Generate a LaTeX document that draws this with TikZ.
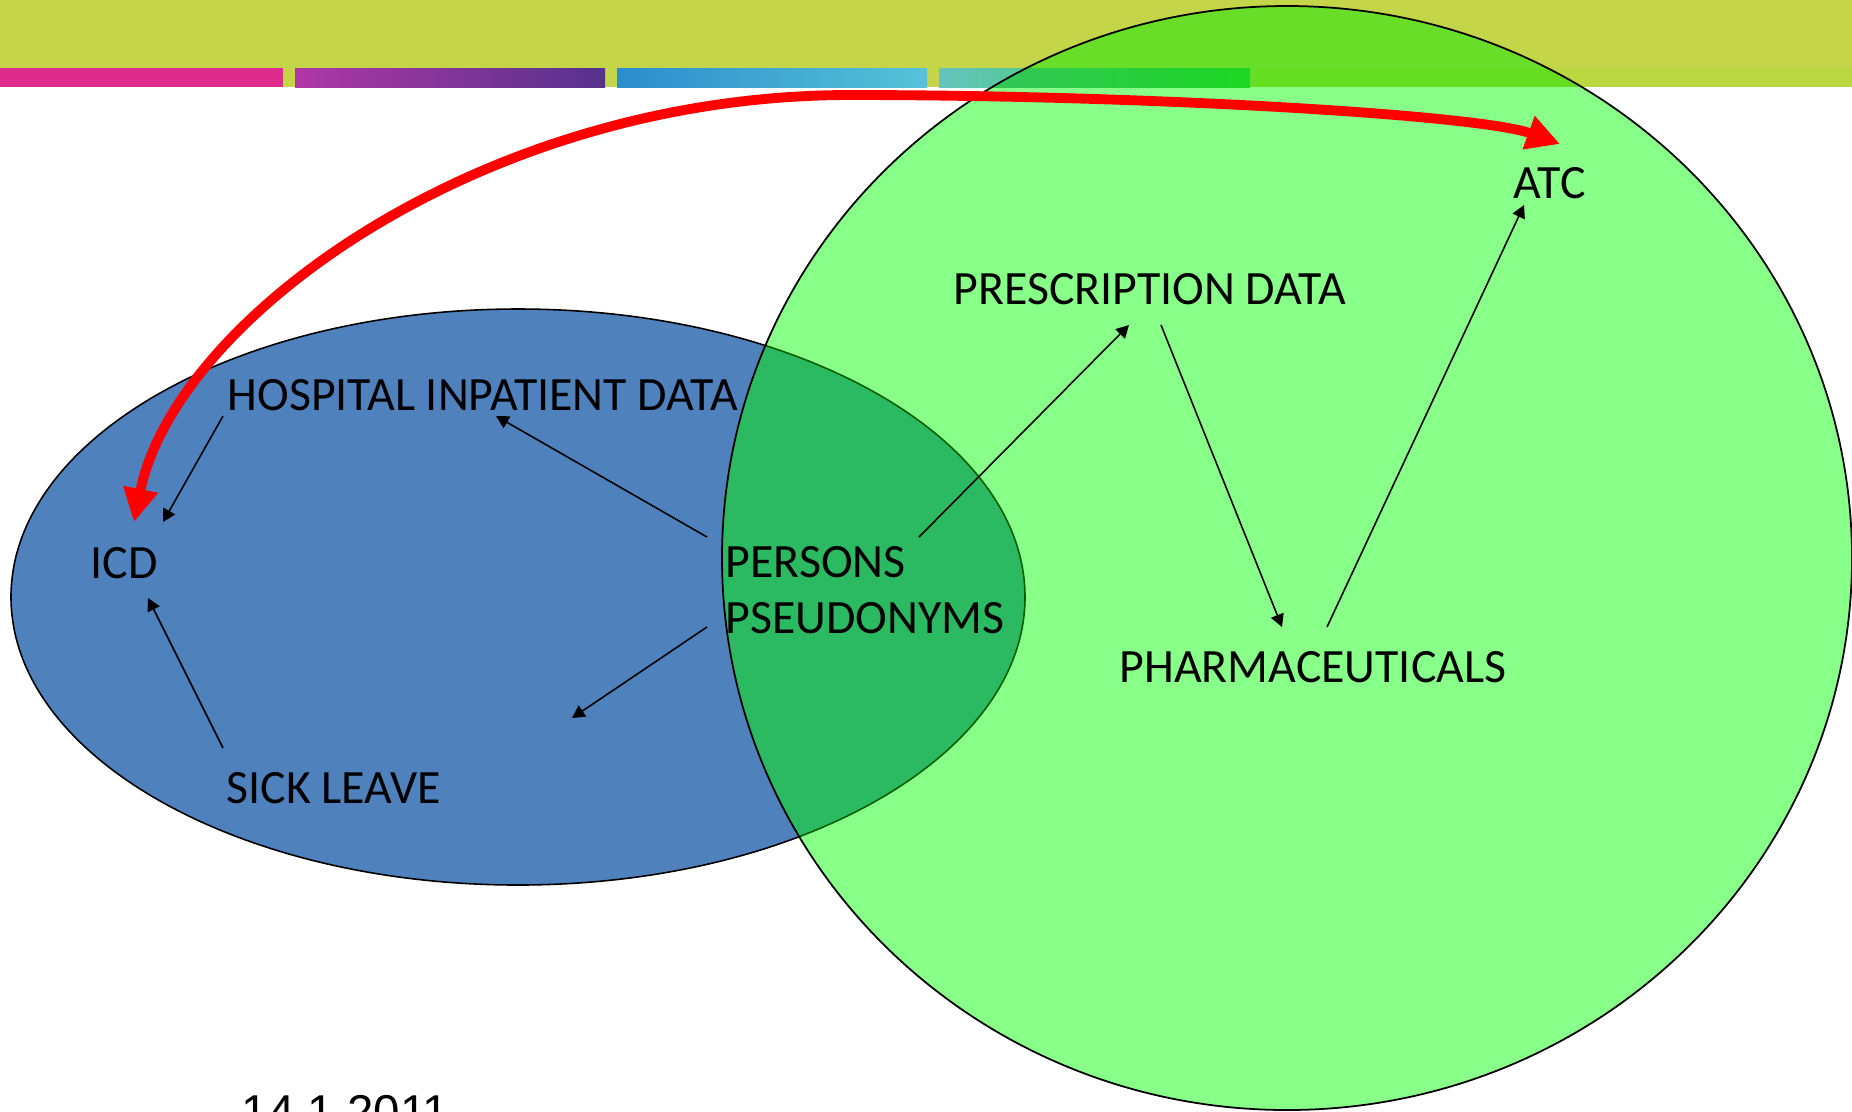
\documentclass[tikz,border=0pt]{standalone}
\usepackage{fontspec}
\setmainfont{Carlito}
\newfontfamily\datefont{Liberation Sans}
\usetikzlibrary{arrows.meta}

\definecolor{bandgreen}{RGB}{196,213,74}
\definecolor{bandunder}{RGB}{104,222,40}
\definecolor{stripepink}{RGB}{221,44,140}
\definecolor{stripelime}{RGB}{188,214,66}
\definecolor{stripeunder}{RGB}{100,220,32}
\definecolor{personblue}{RGB}{79,129,189}
\definecolor{drugsgreen}{RGB}{136,255,136}
\definecolor{overlapgreen}{RGB}{43,185,98}
\definecolor{rimgreen}{RGB}{0,95,0}

\tikzset{
	itemtext/.style={inner sep=0pt, anchor=base west, font=\fontsize{13.6}{16}\selectfont},
	link/.style={-{Triangle[length=3.6pt,width=3.8pt]}, line width=0.45pt},
	redlink/.style={{Triangle[length=9.5pt,width=9.5pt]}-{Triangle[length=9.5pt,width=9.5pt]}, red, line width=2.8pt},
}

\begin{document}
\begin{tikzpicture}[x=0.01cm, y=-0.01cm]
	\useasboundingbox (0,0) rectangle (1852,1111);
	\clip (0,0) rectangle (1852,1111);
	\fill[bandgreen] (0,0) rectangle (1852,87);
	\fill[stripepink] (0,68) rectangle (283,87);
	\shade[left color={rgb,255:red,175;green,55;blue,165}, right color={rgb,255:red,85;green,50;blue,140}] (295,68) rectangle (605,87);
	\shade[left color={rgb,255:red,45;green,140;blue,205}, right color={rgb,255:red,85;green,195;blue,215}] (617,68) rectangle (927,87);
	\shade[left color={rgb,255:red,100;green,195;blue,190}, right color={rgb,255:red,50;green,215;blue,50}] (939,68) rectangle (1250,87);
	\fill[stripelime] (1256,68) rectangle (1852,87);
	\filldraw[fill=personblue, draw=black, line width=0.45pt] (518,597) ellipse [x radius=507, y radius=288];
	\begin{scope}
		\clip (0,87) rectangle (1852,1111);
		\fill[drugsgreen] (1287,558) ellipse [x radius=565, y radius=552];
	\end{scope}
	\begin{scope}
		\clip (1287,558) ellipse [x radius=565, y radius=552];
		\fill[bandunder] (0,0) rectangle (1852,87);
		\shade[left color={rgb,255:red,55;green,195;blue,100}, right color={rgb,255:red,30;green,215;blue,35}] (939,68) rectangle (1250,87);
		\fill[stripeunder] (1256,68) rectangle (1852,87);
		\fill[overlapgreen] (518,597) ellipse [x radius=507, y radius=288];
		\draw[rimgreen, line width=0.45pt] (518,597) ellipse [x radius=507, y radius=288];
	\end{scope}
	\draw[line width=0.5pt] (1287,558) ellipse [x radius=565, y radius=552];

	\node[itemtext] (hosp) at (227,410) {HOSPITAL INPATIENT DATA};
	\node[itemtext] (icd) at (90,578) {ICD};
	\node[itemtext] (sick) at (226,803) {SICK LEAVE};
	\node[itemtext] (pers) at (725,577) {PERSONS};
	\node[itemtext] (pseu) at (725,633) {PSEUDONYMS};
	\node[itemtext] (presc) at (953,304) {PRESCRIPTION DATA};
	\node[itemtext] (pharma) at (1119,682) {PHARMACEUTICALS};
	\node[itemtext] (atc) at (1513,198) {ATC};
	\node[inner sep=0pt, anchor=base west, font=\datefont\fontsize{13.5}{16}\selectfont] (date) at (241,1128) {14.1.2011};
	\coordinate (loose) at (572,718);
	\coordinate (arctop) at (850,95);

	\draw[link] ([shift={(-18,-40)}]pers.base west) -- ([shift={(269,6)}]hosp.base west);
	\draw[link] ([shift={(-4,6)}]hosp.base west) -- ([shift={(73,-56)}]icd.base west);
	\draw[link] ([shift={(-3,-55)}]sick.base west) -- ([shift={(58,20)}]icd.base west);
	\draw[link] ([shift={(-18,-6)}]pseu.base west) -- (loose);
	\draw[link] ([shift={(194,-40)}]pers.base west) -- ([shift={(176,21)}]presc.base west);
	\draw[link] ([shift={(208,21)}]presc.base west) -- ([shift={(163,-55)}]pharma.base west);
	\draw[link] ([shift={(208,-55)}]pharma.base west) -- ([shift={(11,7)}]atc.base west);
	\draw[redlink] ([shift={(44,-56)}]icd.base west) .. controls (175,320) and (480,95) .. (arctop) .. controls (1150,95) and (1480,115) .. ([shift={(47,-54)}]atc.base west);
\end{tikzpicture}
\end{document}
